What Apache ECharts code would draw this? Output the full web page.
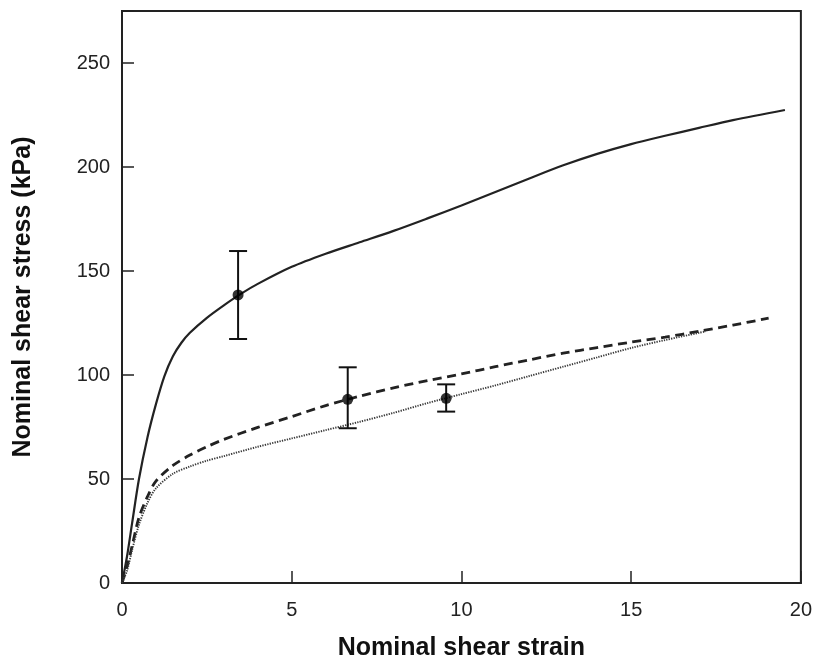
<!DOCTYPE html>
<html>
<head>
<meta charset="utf-8">
<script src="https://cdn.jsdelivr.net/npm/echarts@6/dist/echarts.min.js"></script>
<style>
  html, body { margin: 0; padding: 0; background: #fff; }
  #chart { width: 815px; height: 666px; }
</style>
</head>
<body>
<div id="chart"></div>
<script>
// Stress–strain curves for three conditions (strain, stress in kPa)
const solidStrain  = [0, 0.15, 0.3, 0.5, 0.75, 1.0, 1.25, 1.5, 1.75, 2.0, 2.5, 3.0, 3.5, 4.0, 5.0, 6.0, 7.0, 8.0, 9.0, 10.0, 11.0, 12.0, 13.0, 14.0, 15.0, 16.0, 17.0, 18.0, 19.53];
const solidStress  = [0, 13, 29, 50, 70, 86, 99.5, 109, 115.5, 120.3, 127.5, 133.5, 139, 143.8, 152, 158.3, 163.8, 169.3, 175.3, 181.5, 188, 194.5, 200.8, 206.3, 211, 215, 218.8, 222.5, 227.4];

const dashedStrain = [0, 0.15, 0.3, 0.5, 0.75, 1.0, 1.5, 2.0, 2.5, 3.0, 4.0, 5.0, 6.0, 7.0, 8.0, 9.0, 10.0, 11.0, 12.0, 13.0, 14.0, 15.0, 16.0, 17.0, 18.0, 19.05];
const dashedStress = [0, 8, 18, 31.5, 41.5, 49, 56.5, 61.5, 65.5, 69, 74.8, 80, 85.3, 89.8, 93.8, 97.3, 100.5, 104, 107.3, 110.5, 113.2, 115.8, 118.2, 121, 124, 127.3];

const dottedStrain = [0, 0.15, 0.3, 0.5, 0.75, 1.0, 1.5, 2.0, 2.5, 3.0, 4.0, 5.0, 6.0, 7.0, 8.0, 9.0, 10.0, 11.0, 12.0, 13.0, 14.0, 15.0, 16.0, 17.0, 17.2];
const dottedStress = [0, 6, 16, 28, 38.5, 45.5, 52.5, 56, 58.8, 61, 65.5, 69.5, 73.5, 77.5, 81.8, 86.5, 90.8, 95, 99.5, 104, 108.5, 113, 116.8, 120.3, 121];

// Measured means with error bars
const pointStrain = [3.42, 6.65, 9.55];
const pointMean   = [138.5, 88.3, 88.8];
const pointLow    = [117.3, 74.4, 82.4];
const pointHigh   = [159.6, 103.7, 95.5];

const xTicks = [0, 5, 10, 15, 20];
const yTicks = [0, 50, 100, 150, 200, 250];

const zip = (a, b) => a.map((v, i) => [v, b[i]]);

const chart = echarts.init(document.getElementById('chart'), null, { renderer: 'canvas' });

const axisText = { color: '#222', fontFamily: 'Liberation Sans, Arial, sans-serif', fontSize: 20 };
const titleText = { color: '#111', fontFamily: 'Liberation Sans, Arial, sans-serif', fontWeight: 'bold', fontSize: 25 };

chart.setOption({
  animation: false,
  backgroundColor: '#fff',
  grid: { left: 122, right: 11, top: 11, bottom: 83, show: true, borderColor: '#222', borderWidth: 2, backgroundColor: 'transparent' },
  xAxis: {
    type: 'value', min: 0, max: 20, interval: 5,
    name: 'Nominal shear strain', nameLocation: 'middle', nameGap: 53,
    nameTextStyle: titleText,
    axisLine: { show: true, lineStyle: { color: '#222', width: 2 } },
    axisTick: { show: true, inside: true, length: 12, lineStyle: { color: '#222', width: 1.5 } },
    axisLabel: Object.assign({ margin: 17, formatter: v => xTicks.includes(v) ? String(v) : '' }, axisText),
    splitLine: { show: false }
  },
  yAxis: {
    type: 'value', min: 0, max: 275, interval: 50,
    name: 'Nominal shear stress (kPa)', nameLocation: 'middle', nameGap: 86,
    nameTextStyle: titleText,
    axisLine: { show: true, lineStyle: { color: '#222', width: 2 } },
    axisTick: { show: true, inside: true, length: 12, lineStyle: { color: '#222', width: 1.5 } },
    axisLabel: Object.assign({ margin: 12, formatter: v => yTicks.includes(v) ? String(v) : '' }, axisText),
    splitLine: { show: false }
  },
  series: [
    {
      type: 'line', data: zip(solidStrain, solidStress), smooth: 0.3, symbol: 'none',
      lineStyle: { color: '#222', width: 2.2 }
    },
    {
      type: 'line', data: zip(dashedStrain, dashedStress), smooth: 0.3, symbol: 'none',
      lineStyle: { color: '#222', width: 2.8, type: [9, 5.5] }
    },
    {
      type: 'line', data: zip(dottedStrain, dottedStress), smooth: 0.3, symbol: 'none',
      lineStyle: { color: '#3a3a3a', width: 1.9, type: [1.3, 1.2] }
    },
    {
      type: 'custom',
      data: pointStrain.map((x, i) => [x, pointLow[i], pointHigh[i]]),
      renderItem: (params, api) => {
        const lo = api.coord([api.value(0), api.value(1)]);
        const hi = api.coord([api.value(0), api.value(2)]);
        const hw = 9;
        const st = { stroke: '#111', lineWidth: 2 };
        return {
          type: 'group',
          children: [
            { type: 'line', shape: { x1: lo[0], y1: lo[1], x2: hi[0], y2: hi[1] }, style: st },
            { type: 'line', shape: { x1: lo[0] - hw, y1: lo[1], x2: lo[0] + hw, y2: lo[1] }, style: st },
            { type: 'line', shape: { x1: hi[0] - hw, y1: hi[1], x2: hi[0] + hw, y2: hi[1] }, style: st }
          ]
        };
      },
      z: 5
    },
    {
      type: 'scatter', data: zip(pointStrain, pointMean), symbol: 'circle', symbolSize: 11,
      itemStyle: { color: '#000' }, z: 6
    }
  ]
});
</script>
</body>
</html>
